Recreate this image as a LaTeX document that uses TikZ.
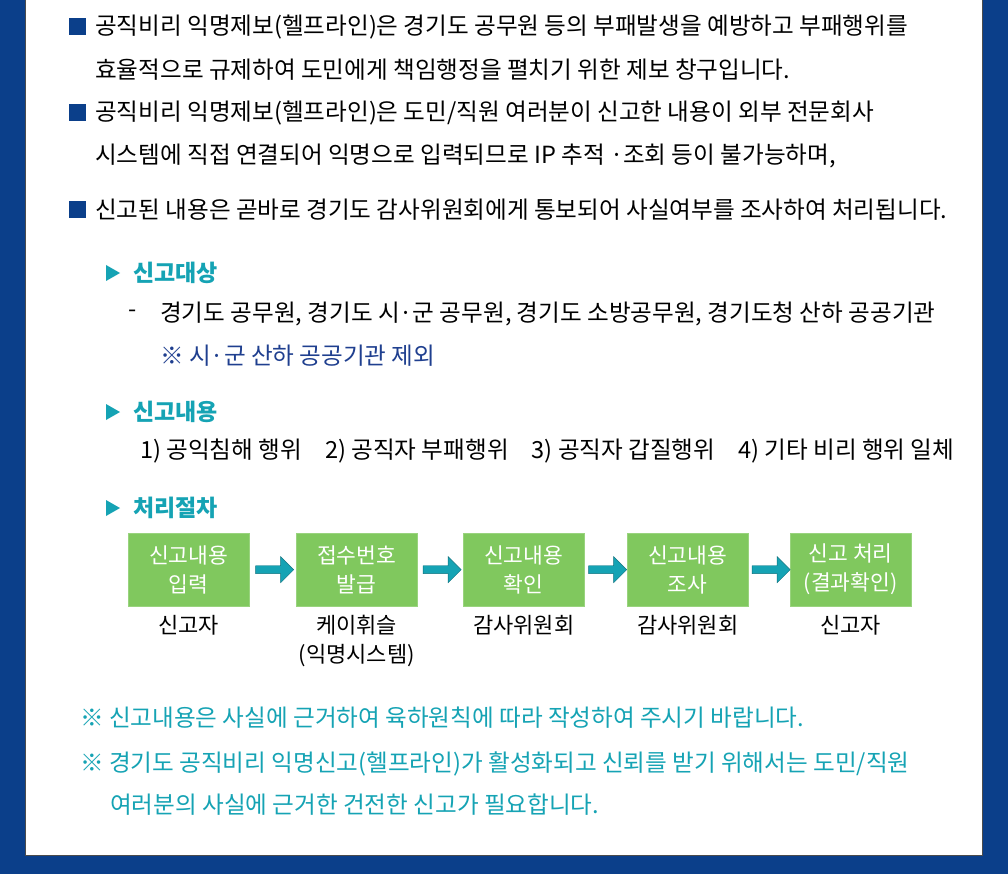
\documentclass[tikz,border=0pt]{standalone}
\usepackage{fontspec}
\setmainfont{Noto Sans CJK KR}
\usetikzlibrary{positioning, shapes.arrows, calc}
\definecolor{bgblue}{HTML}{0B3F8A}
\definecolor{teal}{HTML}{15A3B4}
\definecolor{boxgreen}{HTML}{80C85E}
\definecolor{noteblue}{HTML}{1F3F8F}

\begin{document}
\begin{tikzpicture}[x=1pt, y=-1pt, every node/.style={inner sep=0pt, anchor=west, font=\fontsize{23.6}{24}\selectfont},
    bulletsq/.style={fill=bgblue, minimum size=17pt},
    stepbox/.style={fill=boxgreen, draw=boxgreen!80!white, minimum width=121pt, minimum height=73pt, anchor=north west, text=white, align=center, font=\fontsize{21.5}{29}\selectfont},
    flowarrow/.style={single arrow, fill=teal, draw=teal!70!black, minimum width=26pt, single arrow head extend=5pt, minimum height=38pt, anchor=center, inner sep=2pt},
    who/.style={anchor=north, align=center, font=\fontsize{22}{29}\selectfont},
    head/.style={text=teal, font=\fontsize{23}{24}\selectfont\bfseries}]
  \useasboundingbox (0,0) rectangle (1008,874);
  \fill[bgblue] (0,0) rectangle (1008,874);
  \fill[white, draw=black!70] (25,-2) rectangle (982,855);

  % bullets
  \foreach \y in {27,113,210} \node[bulletsq, anchor=center] at (77,\y) {};
  \node (t1) at (95,27) {공직비리 익명제보(헬프라인)은 경기도 공무원 등의 부패발생을 예방하고 부패행위를};
  \node (t2) at (95,70) {효율적으로 규제하여 도민에게 책임행정을 펼치기 위한 제보 창구입니다.};
  \node (t3) at (95,113) {공직비리 익명제보(헬프라인)은 도민/직원 여러분이 신고한 내용이 외부 전문회사};
  \node (t4) at (95,156) {시스템에 직접 연결되어 익명으로 입력되므로 IP 추적 ·조회 등이 불가능하며,};
  \node (t5) at (95,210) {신고된 내용은 곧바로 경기도 감사위원회에게 통보되어 사실여부를 조사하여 처리됩니다.};

  % sections
  \foreach \y/\txt in {273/신고대상, 412/신고내용, 508/처리절차} {
    \fill[teal] (106,\y-8) -- (120,\y) -- (106,\y+8) -- cycle;
    \node[head] at (133,\y) {\txt};
  }
  \node (dash) at (128,314) {-};
  \node (target) at (160,314) {경기도 공무원, 경기도 시·군 공무원, 경기도 소방공무원, 경기도청 산하 공공기관};
  \node[text=noteblue] (except) at (160,356) {※ 시·군 산하 공공기관 제외};
  \node (items) at (140,451) {1) 공익침해 행위\hspace{23pt}2) 공직자 부패행위\hspace{23pt}3) 공직자 갑질행위\hspace{23pt}4) 기타 비리 행위 일체};

  % flow
  \node[stepbox] (s1) at (128,533) {신고내용\\입력};
  \node[stepbox] (s2) at (296,533) {접수번호\\발급};
  \node[stepbox] (s3) at (463,533) {신고내용\\확인};
  \node[stepbox] (s4) at (627,533) {신고내용\\조사};
  \node[stepbox] (s5) at (790,533) {신고 처리\\(결과확인)};
  \foreach \a/\b in {s1/s2, s2/s3, s3/s4, s4/s5}
    \node[flowarrow] at ($(\a.east)!0.5!(\b.west)$) {};
  \node[who] (w1) at (s1.south |- 0,615) {신고자};
  \node[who] (w2) at (s2.south |- 0,615) {케이휘슬\\(익명시스템)};
  \node[who] (w3) at (s3.south |- 0,615) {감사위원회};
  \node[who] (w4) at (s4.south |- 0,615) {감사위원회};
  \node[who] (w5) at (s5.south |- 0,615) {신고자};

  % notes
  \node[text=teal] (n1) at (80,718) {※ 신고내용은 사실에 근거하여 육하원칙에 따라 작성하여 주시기 바랍니다.};
  \node[text=teal] (n2) at (80,764) {※ 경기도 공직비리 익명신고(헬프라인)가 활성화되고 신뢰를 받기 위해서는 도민/직원};
  \node[text=teal] (n3) at (110,805) {여러분의 사실에 근거한 건전한 신고가 필요합니다.};
\end{tikzpicture}
\end{document}
